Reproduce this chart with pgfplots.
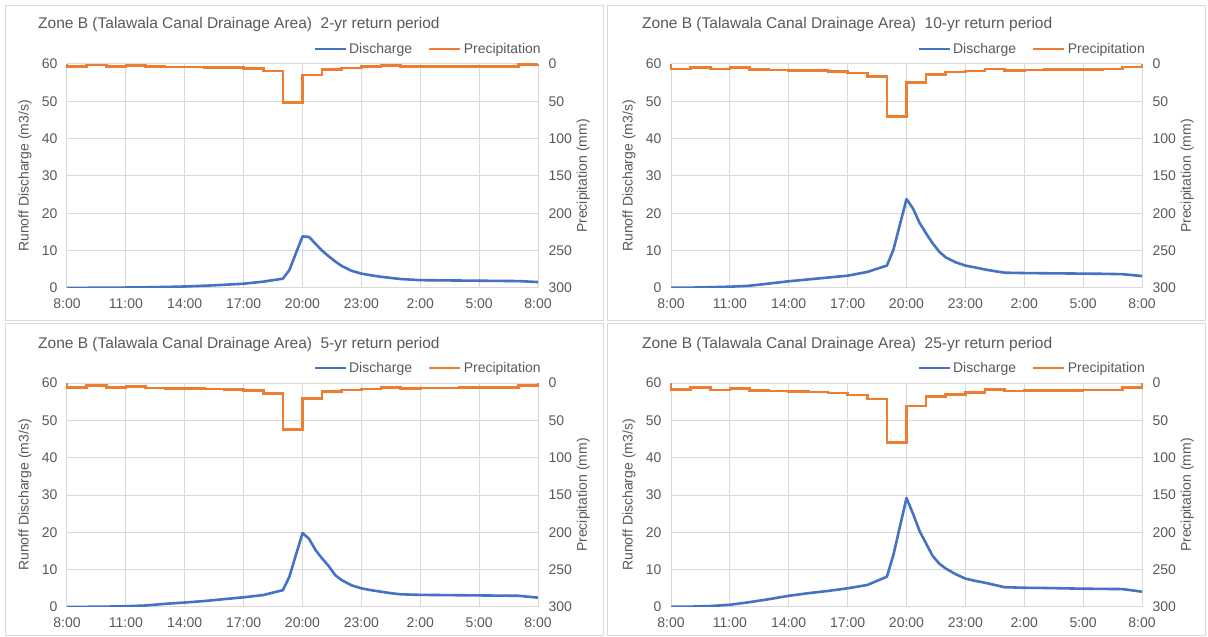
\documentclass[border=0pt]{standalone}
\usepackage{pgfplots}
\pgfplotsset{compat=1.18}
\usepackage{fontspec}
\setmainfont{Liberation Sans}
\definecolor{dblue}{HTML}{4472C4}
\definecolor{porange}{HTML}{ED7D31}
\definecolor{gridc}{HTML}{D9D9D9}
\definecolor{txt}{HTML}{595959}
\newcommand\fs{\fontsize{14}{16}\selectfont}
\newcommand\ts{\fontsize{15.5}{18}\selectfont}
\pgfplotsset{
  base/.style={scale only axis, width=471pt, height=224pt, xmin=0, xmax=24,
    enlargelimits=false, major tick length=0pt, axis line style={draw=none},
    tick label style={font=\fs, text=txt}, label style={font=\fs, text=txt},
    /pgf/number format/assume math mode=true},
  left/.style={base, ymin=0, ymax=60, ytick={0,10,...,60}, xtick={0,3,...,24},
    xticklabels={8:00,11:00,14:00,17:00,20:00,23:00,2:00,5:00,8:00},
    grid=major, grid style={gridc, line width=1pt},
    ylabel={Runoff Discharge (m3/s)},
    ylabel style={at={(axis description cs:-0.089,0.5)}, anchor=center},
    yticklabel style={xshift=-6pt}, xticklabel style={yshift=-7pt},
    legend columns=2,
    legend style={at={(axis description cs:1.0106,1.067)}, anchor=east, draw=none, fill=none,
      inner sep=0pt, font=\fs, text=txt, nodes={inner sep=2pt},
      /tikz/every even column/.append style={column sep=14pt}},
    legend image code/.code={\draw[#1] (0pt,0pt) -- (31pt,0pt);}},
  right/.style={base, ymin=0, ymax=300, y dir=reverse, ytick={0,50,...,300},
    axis x line=none, axis y line*=right, clip=false,
    ylabel={Precipitation (mm)},
    ylabel style={at={(axis description cs:1.096,0.5)}, anchor=center},
    yticklabel style={xshift=7pt}},
}
\newcommand\panel[5]{%
  \begin{axis}[left, at={(#1pt,#2pt)}, anchor=south west]
    \addlegendimage{dblue, line width=2.6pt}
    \addlegendentry{Discharge}
    \addlegendimage{porange, line width=2.6pt}
    \addlegendentry{Precipitation}
    \addplot[dblue, line width=2.6pt, line join=round] coordinates {#4};
  \end{axis}
  \begin{axis}[right, at={(#1pt,#2pt)}, anchor=south west]
    \addplot[porange, line width=2.6pt, const plot] coordinates {#5};
  \end{axis}
  \node[anchor=west, inner sep=0pt, font=\ts, text=txt] at (#1pt-29pt, #2pt+263pt) {#3};
}
\begin{document}
\begin{tikzpicture}
\path (0pt,0pt) rectangle (1208pt,637pt);
\draw[gridc, line width=1pt] (5pt,631pt) rectangle (603pt,316.5pt);
\draw[gridc, line width=1pt] (607pt,631pt) rectangle (1205pt,316.5pt);
\draw[gridc, line width=1pt] (5pt,313.3pt) rectangle (603pt,1.5pt);
\draw[gridc, line width=1pt] (607pt,313.3pt) rectangle (1205pt,1.5pt);

\panel{67}{349}{Zone B (Talawala Canal Drainage Area)\ \ 2-yr return period}
{(0,0.05)(1,0.05)(2,0.08)(3,0.12)(4,0.18)(5,0.28)(6,0.4)(7,0.6)(8,0.85)(9,1.15)(10,1.7)(11,2.5)(11.33,4.8)(12,13.8)(12.33,13.7)(12.67,11.8)(13,10.0)(13.33,8.5)(13.67,7.1)(14,5.9)(14.5,4.6)(15,3.85)(15.5,3.4)(16,3.0)(17,2.4)(18,2.1)(19,2.05)(20,2.0)(21,1.95)(22,1.9)(23,1.85)(24,1.6)}
{(0,0)(0,3)(1,1.5)(2,3)(3,2)(4,3.5)(5,4)(6,4)(7,4.5)(8,5)(9,6)(10,9.5)(11,51.5)(12,14.5)(13,7.6)(14,5.4)(15,3.6)(16,1.8)(17,3.6)(18,3.4)(19,3.3)(20,3.3)(21,3.3)(22,3.2)(23,1.0)(24,1.0)(24,0)}

\panel{671}{349}{Zone B (Talawala Canal Drainage Area)\ \ 10-yr return period}
{(0,0.05)(1,0.1)(2,0.2)(3,0.35)(4,0.6)(5,1.2)(6,1.8)(7,2.3)(8,2.8)(9,3.3)(10,4.3)(11,6.0)(11.33,10.2)(12,23.8)(12.33,21.3)(12.67,17.4)(13,14.6)(13.33,12.0)(13.67,9.7)(14,8.2)(14.5,6.9)(15,6.0)(15.5,5.5)(16,4.95)(16.5,4.5)(17,4.1)(18,4.0)(19,3.95)(20,3.9)(21,3.85)(22,3.8)(23,3.7)(24,3.2)}
{(0,0)(0,6.7)(1,4.5)(2,6.7)(3,5)(4,7.6)(5,8)(6,8.5)(7,9)(8,10)(9,12)(10,17)(11,70)(12,25)(13,14)(14,10.7)(15,9.4)(16,6.7)(17,8.5)(18,8)(19,7.6)(20,7.4)(21,7.3)(22,6.7)(23,4)(24,4)(24,0)}

\panel{67}{30}{Zone B (Talawala Canal Drainage Area)\ \ 5-yr return period}
{(0,0.02)(1,0.05)(2,0.1)(3,0.2)(4,0.4)(5,0.85)(6,1.2)(7,1.6)(8,2.1)(9,2.6)(10,3.2)(11,4.5)(11.33,8.1)(12,19.8)(12.33,18.3)(12.67,15.2)(13,13.0)(13.33,11.0)(13.67,8.5)(14,7.2)(14.5,5.8)(15,5.0)(15.5,4.5)(16,4.1)(16.5,3.7)(17,3.4)(18,3.25)(19,3.2)(20,3.15)(21,3.1)(22,3.05)(23,3.0)(24,2.5)}
{(0,0)(0,5.8)(1,3.6)(2,6.2)(3,4.4)(4,6.7)(5,7.1)(6,7.1)(7,8)(8,8.9)(9,9.8)(10,14)(11,62)(12,21)(13,11.6)(14,9.3)(15,8)(16,5.8)(17,7)(18,6.7)(19,6.5)(20,6.4)(21,6.3)(22,6.2)(23,3.6)(24,3.6)(24,0)}

\panel{671}{30}{Zone B (Talawala Canal Drainage Area)\ \ 25-yr return period}
{(0,0.05)(1,0.1)(2,0.25)(3,0.6)(4,1.3)(5,2.1)(6,3.0)(7,3.7)(8,4.3)(9,5.0)(10,5.9)(11,8.1)(11.33,13.9)(12,29.2)(12.33,25.0)(12.67,20.3)(13,17.0)(13.33,13.7)(13.67,11.6)(14,10.3)(14.5,8.8)(15,7.6)(15.5,7.0)(16,6.5)(16.5,5.9)(17,5.3)(18,5.15)(19,5.1)(20,5.0)(21,4.9)(22,4.85)(23,4.8)(24,4.1)}
{(0,0)(0,8.9)(1,5.8)(2,9.3)(3,7.1)(4,10.2)(5,10.7)(6,11)(7,12)(8,13.3)(9,16)(10,21.3)(11,79.6)(12,30.7)(13,18.2)(14,15)(15,12.9)(16,8.9)(17,10.7)(18,10.2)(19,10)(20,9.8)(21,9.6)(22,9.3)(23,6.2)(24,6.2)(24,0)}
\end{tikzpicture}
\end{document}
